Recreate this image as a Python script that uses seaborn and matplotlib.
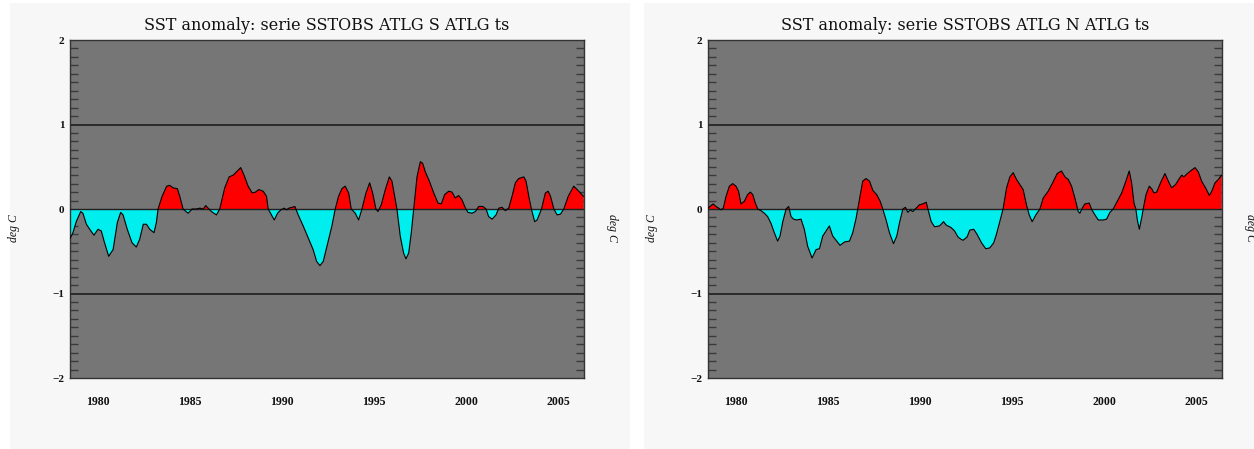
import numpy as np
import pandas as pd
import seaborn as sns
import matplotlib
matplotlib.use("Agg")
import matplotlib.pyplot as plt
from matplotlib.patches import Rectangle

# South Atlantic SST anomaly (deg C), smoothed series
years_s = [
    1978.48, 1978.64, 1978.82, 1979.06, 1979.18, 1979.37, 1979.55, 1979.78, 1980.00, 1980.18,
    1980.33, 1980.58, 1980.82, 1981.05, 1981.23, 1981.36, 1981.59, 1981.85, 1982.08, 1982.26,
    1982.46, 1982.63, 1982.81, 1983.04, 1983.17, 1983.26, 1983.48, 1983.73, 1983.89, 1984.08,
    1984.31, 1984.44, 1984.62, 1984.89, 1985.11, 1985.34, 1985.53, 1985.71, 1985.85, 1985.98,
    1986.16, 1986.43, 1986.61, 1986.88, 1987.12, 1987.34, 1987.52, 1987.75, 1987.93, 1988.15,
    1988.37, 1988.55, 1988.73, 1988.97, 1989.15, 1989.24, 1989.42, 1989.57, 1989.75, 1989.93,
    1990.11, 1990.24, 1990.36, 1990.54, 1990.69, 1990.87, 1991.14, 1991.41, 1991.68, 1991.87,
    1992.05, 1992.23, 1992.41, 1992.52, 1992.70, 1992.88, 1993.06, 1993.24, 1993.42, 1993.61,
    1993.75, 1993.97, 1994.15, 1994.33, 1994.55, 1994.75, 1994.91, 1995.09, 1995.20, 1995.38,
    1995.60, 1995.82, 1995.96, 1996.14, 1996.23, 1996.41, 1996.59, 1996.72, 1996.87, 1997.01,
    1997.14, 1997.32, 1997.50, 1997.63, 1997.77, 1997.99, 1998.23, 1998.46, 1998.64, 1998.82,
    1999.04, 1999.22, 1999.40, 1999.58, 1999.76, 1999.95, 2000.09, 2000.31, 2000.49, 2000.67,
    2000.89, 2001.07, 2001.21, 2001.40, 2001.61, 2001.76, 2001.94, 2002.12, 2002.30, 2002.48,
    2002.66, 2002.84, 2003.12, 2003.24, 2003.39, 2003.53, 2003.71, 2003.84, 2004.08, 2004.29,
    2004.44, 2004.57, 2004.75, 2004.93, 2005.11, 2005.29, 2005.53, 2005.83, 2006.10, 2006.36,
]
sst_s = [
    -0.35, -0.28, -0.15, -0.03, -0.05, -0.18, -0.24, -0.31, -0.24, -0.26,
    -0.38, -0.56, -0.48, -0.16, -0.04, -0.07, -0.24, -0.40, -0.45, -0.36,
    -0.18, -0.18, -0.24, -0.28, -0.16, 0.00, 0.15, 0.27, 0.28, 0.25,
    0.24, 0.15, 0.00, -0.05, 0.00, 0.00, 0.01, 0.00, 0.04, 0.01,
    -0.03, -0.07, 0.00, 0.25, 0.38, 0.40, 0.44, 0.49, 0.40, 0.27,
    0.19, 0.20, 0.23, 0.21, 0.15, 0.00, -0.07, -0.13, -0.05, -0.01,
    0.01, -0.01, 0.01, 0.02, 0.03, -0.07, -0.20, -0.34, -0.48, -0.62,
    -0.67, -0.62, -0.46, -0.36, -0.20, 0.00, 0.15, 0.24, 0.27, 0.19,
    0.00, -0.05, -0.13, 0.00, 0.19, 0.31, 0.19, 0.00, -0.03, 0.05,
    0.23, 0.38, 0.33, 0.11, 0.00, -0.32, -0.52, -0.59, -0.52, -0.28,
    0.00, 0.38, 0.56, 0.54, 0.44, 0.33, 0.19, 0.07, 0.06, 0.17,
    0.21, 0.20, 0.13, 0.16, 0.11, 0.01, -0.04, -0.05, -0.03, 0.03,
    0.03, 0.00, -0.09, -0.12, -0.07, 0.01, 0.02, -0.02, 0.01, 0.15,
    0.31, 0.36, 0.38, 0.33, 0.15, 0.00, -0.15, -0.13, 0.00, 0.19,
    0.21, 0.15, 0.00, -0.07, -0.06, 0.00, 0.15, 0.27, 0.21, 0.15,
]

# North Atlantic SST anomaly (deg C), smoothed series
years_n = [
    1978.48, 1978.64, 1978.76, 1978.91, 1979.06, 1979.18, 1979.31, 1979.46, 1979.64, 1979.82,
    1980.00, 1980.14, 1980.27, 1980.45, 1980.63, 1980.78, 1980.91, 1981.05, 1981.18, 1981.36,
    1981.54, 1981.72, 1981.90, 1982.08, 1982.26, 1982.39, 1982.54, 1982.72, 1982.86, 1982.99,
    1983.12, 1983.30, 1983.53, 1983.71, 1983.89, 1984.13, 1984.35, 1984.53, 1984.71, 1984.89,
    1985.07, 1985.25, 1985.47, 1985.65, 1985.89, 1986.16, 1986.34, 1986.52, 1986.70, 1986.88,
    1987.06, 1987.25, 1987.43, 1987.64, 1987.83, 1987.97, 1988.15, 1988.33, 1988.55, 1988.73,
    1988.88, 1989.06, 1989.20, 1989.33, 1989.46, 1989.60, 1989.78, 1989.96, 1990.14, 1990.33,
    1990.42, 1990.60, 1990.78, 1991.05, 1991.27, 1991.41, 1991.68, 1991.87, 1992.05, 1992.23,
    1992.33, 1992.55, 1992.69, 1992.91, 1993.09, 1993.33, 1993.56, 1993.78, 1993.99, 1994.14,
    1994.32, 1994.50, 1994.69, 1994.87, 1995.05, 1995.23, 1995.41, 1995.59, 1995.77, 1995.92,
    1996.08, 1996.28, 1996.50, 1996.68, 1996.95, 1997.19, 1997.44, 1997.67, 1997.86, 1998.04,
    1998.22, 1998.40, 1998.58, 1998.67, 1998.80, 1998.94, 1999.18, 1999.30, 1999.49, 1999.67,
    1999.94, 2000.12, 2000.30, 2000.48, 2000.70, 2000.94, 2001.17, 2001.35, 2001.48, 2001.61,
    2001.71, 2001.79, 2001.90, 2002.02, 2002.11, 2002.26, 2002.44, 2002.57, 2002.69, 2002.84,
    2003.05, 2003.29, 2003.47, 2003.65, 2003.87, 2004.07, 2004.20, 2004.32, 2004.50, 2004.68,
    2004.92, 2005.10, 2005.28, 2005.52, 2005.70, 2005.83, 2006.01, 2006.19, 2006.36,
]
sst_n = [
    0.01, 0.04, 0.06, 0.03, 0.01, -0.01, 0.01, 0.15, 0.27, 0.30,
    0.27, 0.21, 0.06, 0.09, 0.17, 0.20, 0.17, 0.07, 0.00, -0.02,
    -0.05, -0.09, -0.17, -0.28, -0.38, -0.32, -0.15, 0.00, 0.03, -0.09,
    -0.12, -0.13, -0.12, -0.24, -0.44, -0.58, -0.48, -0.47, -0.32, -0.26,
    -0.20, -0.32, -0.38, -0.43, -0.39, -0.38, -0.28, -0.11, 0.11, 0.33,
    0.36, 0.33, 0.22, 0.17, 0.09, 0.00, -0.13, -0.28, -0.41, -0.32,
    -0.16, 0.00, 0.02, -0.04, -0.01, -0.03, 0.01, 0.05, 0.06, 0.08,
    0.00, -0.15, -0.21, -0.20, -0.15, -0.19, -0.22, -0.26, -0.33, -0.36,
    -0.37, -0.33, -0.25, -0.24, -0.30, -0.40, -0.47, -0.46, -0.40, -0.30,
    -0.15, 0.00, 0.25, 0.38, 0.43, 0.35, 0.29, 0.23, 0.05, -0.07,
    -0.15, -0.07, 0.00, 0.13, 0.21, 0.31, 0.42, 0.45, 0.38, 0.35,
    0.27, 0.13, -0.03, -0.05, 0.01, 0.06, 0.07, 0.00, -0.07, -0.13,
    -0.13, -0.12, -0.04, 0.00, 0.09, 0.19, 0.33, 0.45, 0.31, 0.07,
    0.00, -0.13, -0.24, -0.11, 0.00, 0.17, 0.27, 0.24, 0.19, 0.20,
    0.31, 0.42, 0.33, 0.25, 0.29, 0.36, 0.40, 0.38, 0.42, 0.45,
    0.49, 0.44, 0.33, 0.24, 0.16, 0.21, 0.31, 0.35, 0.40,
]

titles = [
    "SST anomaly: serie SSTOBS ATLG S ATLG ts",
    "SST anomaly: serie SSTOBS ATLG N ATLG ts",
]
year_ticks = [1980, 1985, 1990, 1995, 2000, 2005]
value_ticks = [-2, -1, 0, 1, 2]
units = "deg C"

sns.set_style("white")
plt.rcParams["font.family"] = ["Liberation Serif", "DejaVu Serif"]

W, H = 1254, 449
fig = plt.figure(figsize=(W / 100, H / 100), dpi=100)
fig.patch.set_facecolor("white")

# light panel backgrounds behind each plot
for x0, x1 in [(10, 630), (644, 1254)]:
    fig.patches.append(Rectangle((x0 / W, 0), (x1 - x0) / W, 446 / H,
                                 transform=fig.transFigure, facecolor="#f7f7f7",
                                 edgecolor="none", zorder=-10))

panels = [
    (70, years_s, sst_s, titles[0]),
    (708, years_n, sst_n, titles[1]),
]

for left_px, yrs, vals, title in panels:
    ax = fig.add_axes([left_px / W, 71 / H, 513.5 / W, 338 / H])
    ax.set_zorder(1)
    ax.set_facecolor("#767676")
    df = pd.DataFrame({"year": yrs, "anom": vals})
    y = df["anom"].to_numpy()
    x = df["year"].to_numpy()
    ax.fill_between(x, 0, y, where=y >= 0, interpolate=True, color="#ff0000",
                    linewidth=0, zorder=2)
    ax.fill_between(x, 0, y, where=y <= 0, interpolate=True, color="#00eeee",
                    linewidth=0, zorder=2)
    sns.lineplot(data=df, x="year", y="anom", ax=ax, color="black", linewidth=0.8,
                 zorder=4, sort=False)
    for lvl in (-1, 1):
        ax.axhline(lvl, color="#2a2a2a", linewidth=1.4, zorder=3)
    ax.axhline(0, color="#202020", linewidth=1.0, zorder=3)

    ax.set_xlim(1978.48, 2006.36)
    ax.set_ylim(-2, 2)

    ax.set_xticks(year_ticks)
    ax.set_xticklabels([str(v) for v in year_ticks], fontsize=8.5, fontweight="bold")
    ax.tick_params(axis="x", length=0, pad=13, colors="#111111")

    ax.set_yticks(value_ticks)
    ax.set_yticklabels([str(v).replace("-", "\u2212") for v in value_ticks],
                       fontsize=8, fontweight="bold")
    ax.tick_params(axis="y", which="major", length=0, pad=4, colors="#111111")
    minor = [v / 10 for v in range(-19, 20) if v % 10 != 0]
    ax.set_yticks(minor, minor=True)
    ax.tick_params(axis="y", which="minor", direction="in", length=6, width=1.0,
                   color="#3a3a3a", left=True, right=True)

    for sp in ax.spines.values():
        sp.set_color("#333333")
        sp.set_linewidth(1.0)
        sp.set_visible(True)

    ax.set_xlabel("")
    ax.set_ylabel("")
    ax.set_title(title, fontsize=11.5, pad=7, color="#111111", family="DejaVu Serif")

    # units on both sides
    fig.text((left_px - 56) / W, 1 - 228 / H, units, rotation=90, ha="center",
             va="center", fontsize=8.5, style="italic", color="#111111")
    fig.text((left_px + 542) / W, 1 - 228 / H, units, rotation=270, ha="center",
             va="center", fontsize=8.5, style="italic", color="#111111")

fig.savefig("out.png", dpi=100, facecolor=fig.get_facecolor())
